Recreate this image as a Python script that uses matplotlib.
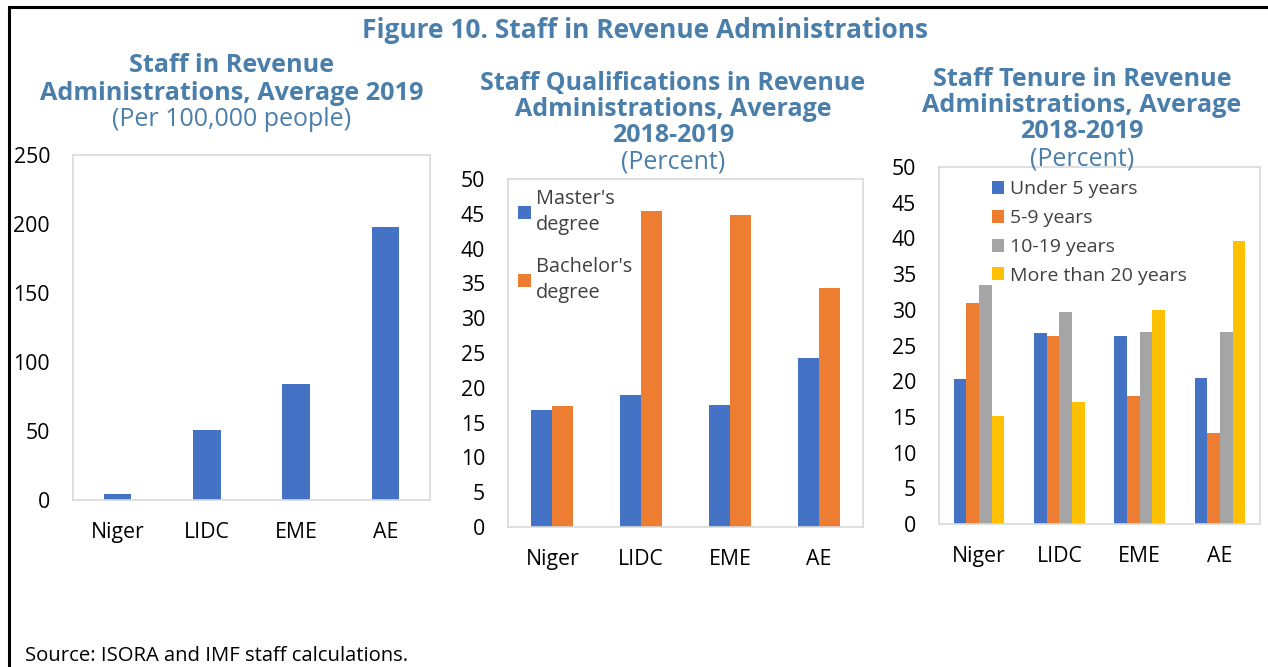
import numpy as np
import matplotlib.pyplot as plt
from matplotlib.lines import Line2D

plt.rcParams['font.family'] = ['Open Sans', 'DejaVu Sans']

# dados
categories = ['Niger', 'LIDC', 'EME', 'AE']

staff_per_100k = [4, 51, 84, 198]

masters = [16.8, 19.0, 17.5, 24.3]
bachelors = [17.4, 45.4, 44.8, 34.4]

tenure_labels = ['Under 5 years', '5-9 years', '10-19 years', 'More than 20 years']
under5 = [20.3, 26.8, 26.3, 20.5]
y5_9 = [31.0, 26.3, 17.9, 12.8]
y10_19 = [33.5, 29.7, 26.9, 26.9]
over20 = [15.1, 17.1, 30.0, 39.7]

# cores estilo Excel
blue = '#4472C4'
orange = '#ED7D31'
gray = '#A5A5A5'
yellow = '#FFC000'
title_col = '#4A7EAB'
text_col = '#404040'

W, H = 1268, 667
fig = plt.figure(figsize=(W / 100, H / 100), dpi=100)


def px_axes(l, t, r, b):
    return fig.add_axes([l / W, 1 - b / H, (r - l) / W, (b - t) / H])


def px_text(x, y, s, **kw):
    fig.text(x / W, 1 - y / H, s, ha='center', va='center', **kw)


def style(ax, ymax, step):
    ax.set_ylim(0, ymax)
    ax.set_yticks(np.arange(0, ymax + 1, step))
    ax.set_xlim(-0.5, 3.5)
    ax.set_xticks(range(4))
    ax.set_xticklabels(categories)
    ax.tick_params(length=0, labelsize=15.3, colors='black')
    ax.tick_params(axis='y', pad=16.5)
    ax.tick_params(axis='x', pad=16)
    for s in ax.spines.values():
        s.set_color('#D9D9D9')
        s.set_linewidth(1.2)


x = np.arange(len(categories))

# painel 1
ax1 = px_axes(73, 155, 430, 500)
ax1.bar(x, staff_per_100k, width=0.31, color=blue)
style(ax1, 250, 50)

# painel 2
ax2 = px_axes(508, 179, 863, 527)
w2 = 0.237
ax2.bar(x - w2 / 2, masters, width=w2, color=blue, label="Master's\ndegree")
ax2.bar(x + w2 / 2, bachelors, width=w2, color=orange, label="Bachelor's\ndegree")
style(ax2, 50, 5)
leg2 = ax2.legend(loc='upper left', bbox_to_anchor=(0.0, 1.0), frameon=False, fontsize=14.3,
                  handlelength=0.65, handleheight=0.65, handletextpad=0.25, labelspacing=1.1,
                  labelcolor=text_col, borderaxespad=0.1)
for t in leg2.get_texts():
    t.set_linespacing(1.4)

# painel 3
ax3 = px_axes(939, 167, 1260, 524)
w3 = 0.158
series = [under5, y5_9, y10_19, over20]
cols = [blue, orange, gray, yellow]
for i, (vals, c, lab) in enumerate(zip(series, cols, tenure_labels)):
    ax3.bar(x + (i - 1.5) * w3, vals, width=w3, color=c, label=lab)
style(ax3, 50, 5)
ax3.legend(loc='upper left', bbox_to_anchor=(0.128, 0.995), frameon=False, fontsize=14,
           handlelength=0.65, handleheight=0.65, handletextpad=0.3, labelspacing=0.55,
           labelcolor=text_col, borderaxespad=0.2)

# títulos
px_text(645, 31, 'Figure 10. Staff in Revenue Administrations', fontsize=19,
        fontweight='bold', color=title_col)

px_text(232, 66, 'Staff in Revenue', fontsize=18.2, fontweight='bold', color=title_col)
px_text(232, 93, 'Administrations, Average 2019', fontsize=18.2, fontweight='bold', color=title_col)
px_text(232, 120, '(Per 100,000 people)', fontsize=18, color=title_col)

px_text(673, 83, 'Staff Qualifications in Revenue', fontsize=18, fontweight='bold', color=title_col)
px_text(673, 109, 'Administrations, Average', fontsize=18, fontweight='bold', color=title_col)
px_text(673, 136, '2018-2019', fontsize=18, fontweight='bold', color=title_col)
px_text(673, 162, '(Percent)', fontsize=18, color=title_col)

px_text(1082, 79, 'Staff Tenure in Revenue', fontsize=18.2, fontweight='bold', color=title_col)
px_text(1082, 106, 'Administrations, Average', fontsize=18.2, fontweight='bold', color=title_col)
px_text(1082, 132, '2018-2019', fontsize=18.2, fontweight='bold', color=title_col)
px_text(1082, 159, '(Percent)', fontsize=18, color=title_col)

fig.text(25 / W, 1 - 656 / H, 'Source: ISORA and IMF staff calculations.', fontsize=14.6,
         ha='left', va='center', color='black')

# moldura
fig.add_artist(Line2D([9 / W, 9 / W], [0, 1 - 7 / H], transform=fig.transFigure,
                      color='black', lw=2.2))
fig.add_artist(Line2D([9 / W, 1], [1 - 7 / H, 1 - 7 / H], transform=fig.transFigure,
                      color='black', lw=2.2))

plt.savefig('out.png', dpi=100)
